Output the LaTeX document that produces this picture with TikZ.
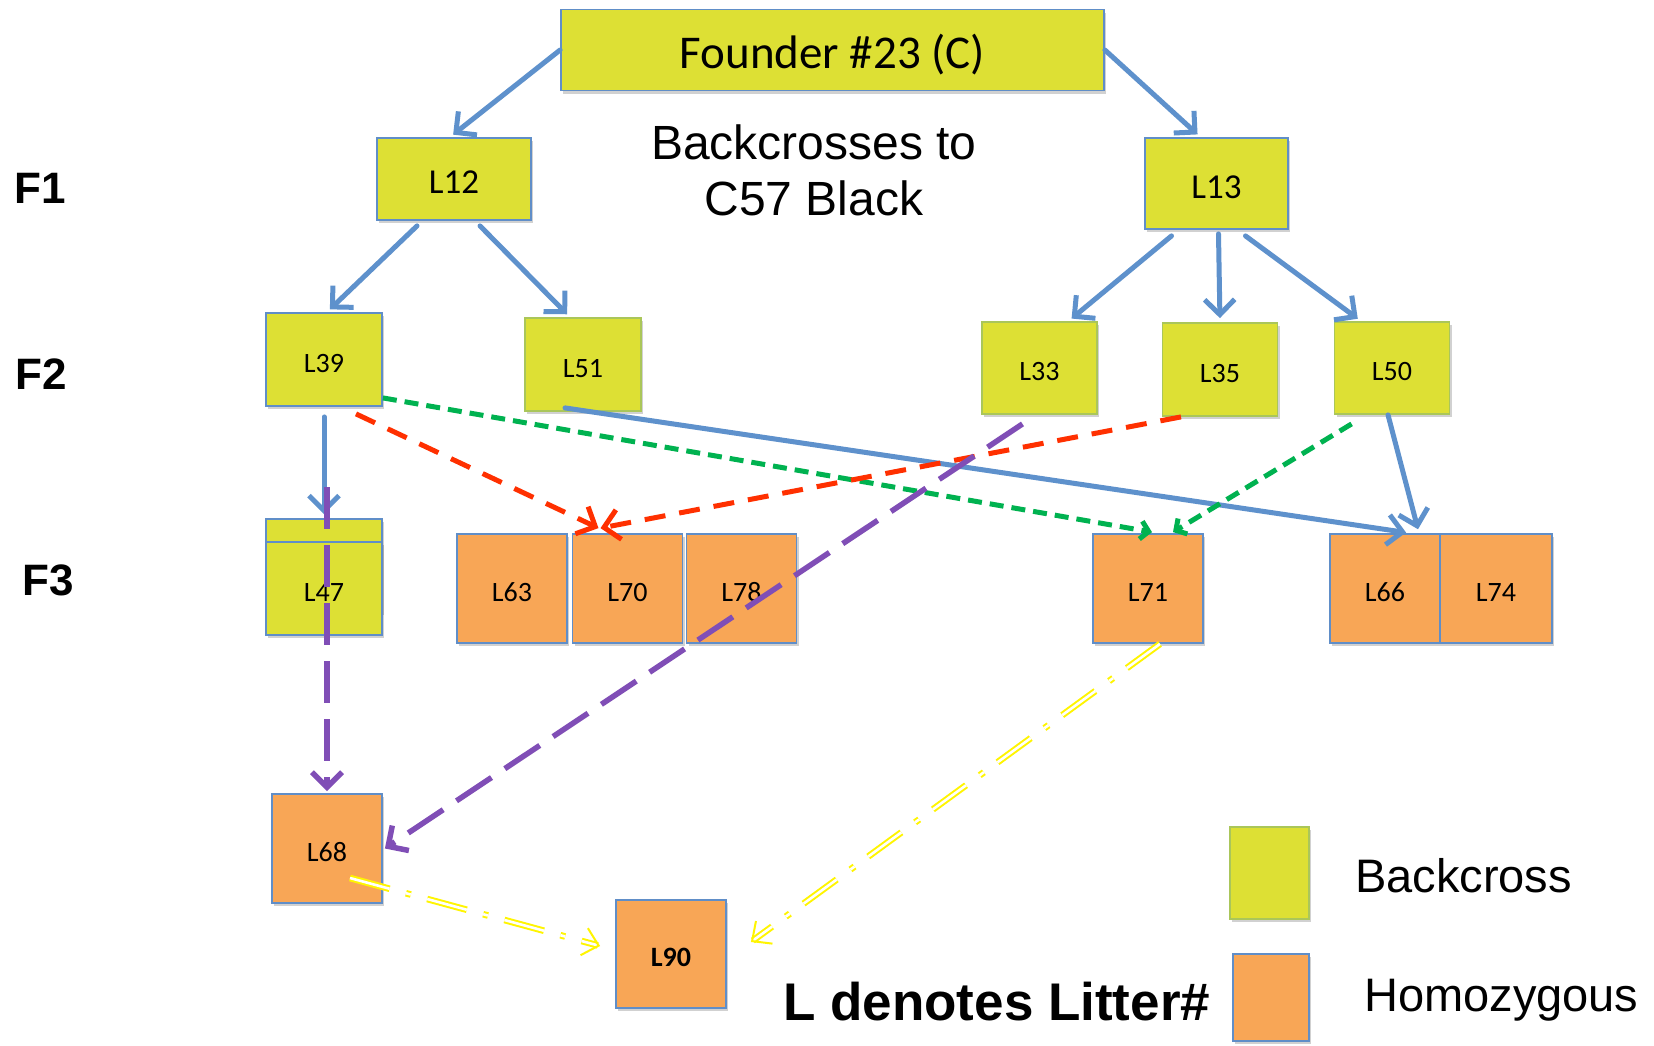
\documentclass[tikz,border=0pt]{standalone}
\usepackage{fontspec}
\setmainfont{Carlito}
\newfontfamily\arialf{Liberation Sans}
\usetikzlibrary{arrows.meta,shadows,calc}
\definecolor{bcgreen}{RGB}{221,224,52}
\definecolor{hzorange}{RGB}{248,166,86}
\definecolor{boxblue}{RGB}{96,142,200}
\definecolor{boxgreen}{RGB}{170,198,90}
\definecolor{arrblue}{RGB}{94,145,204}
\definecolor{dgreen}{RGB}{0,178,80}
\definecolor{dred}{RGB}{255,48,0}
\definecolor{dpurple}{RGB}{128,78,182}
\definecolor{dyellow}{RGB}{255,245,0}
\tikzset{
  bx/.style={draw=boxblue, line width=1.8pt, inner sep=0pt,
    font=\fontsize{28}{30}\selectfont, text height=25pt, text depth=0pt,
    drop shadow={shadow xshift=2pt, shadow yshift=-3pt, fill=black, opacity=0.18}},
  bc/.style={bx, fill=bcgreen},
  bcg/.style={bc, draw=boxgreen},
  hz/.style={bx, fill=hzorange},
  tipb/.style={-{Straight Barb[length=15pt,width=30pt]}},
  bl/.style={tipb, draw=arrblue, line width=5pt, line cap=round, shorten >=4pt},
  gd/.style={-{Straight Barb[length=8pt,width=18pt]}, draw=dgreen, line width=5pt, dash pattern=on 14pt off 8pt},
  rd/.style={tipb, draw=dred, line width=5pt, dash pattern=on 21pt off 14pt},
  pd/.style={tipb, draw=dpurple, line width=5.5pt, dash pattern=on 42pt off 16pt},
  yd/.style={-{Straight Barb[length=15pt,width=28pt]}, draw=dyellow, double=white,
    line width=2pt, double distance=2.6pt, dash pattern=on 41pt off 17pt on 5pt off 17pt},
  lbl/.style={font=\arialf\fontsize{44}{50}\selectfont\bfseries, inner sep=0pt},
  atxt/.style={font=\arialf\fontsize{47}{55}\selectfont, inner sep=0pt},
}
\begin{document}
\begin{tikzpicture}[x=1pt,y=-1pt]
\useasboundingbox (0,0) rectangle (1654,1045);
\fill[white] (0,0) rectangle (1654,1045);

% generation labels
\node[lbl] (F1) at (40,188) {F1};
\node[lbl] (F2) at (41,374) {F2};
\node[lbl] (F3) at (48,580) {F3};

% founder and F1
\node[bc, minimum width=543pt, minimum height=81pt, font=\fontsize{47}{50}\selectfont, text height=36pt] (F) at (832.5,50) {Founder \#23 (C)};
\node[bc, minimum width=154pt, minimum height=82pt, font=\fontsize{35}{38}\selectfont, text height=29pt] (L12) at (454,179) {L12};
\node[bc, minimum width=143pt, minimum height=91pt, font=\fontsize{35}{38}\selectfont, text height=29pt] (L13) at (1216.5,183.5) {L13};
\node[atxt, align=center, font=\arialf\fontsize{48}{56}\selectfont] (bt) at (814,170) {Backcrosses to\\C57 Black};

% F2
\node[bc, minimum width=116pt, minimum height=93pt] (L39) at (324,359.5) {L39};
\node[bcg, minimum width=116pt, minimum height=93pt] (L51) at (583,364.5) {L51};
\node[bcg, minimum width=115pt, minimum height=92pt] (L33) at (1039.5,368) {L33};
\node[bcg, minimum width=115pt, minimum height=93pt] (L35) at (1220,369.5) {L35};
\node[bcg, minimum width=115pt, minimum height=92pt] (L50) at (1392,368) {L50};

% F3
\node[bc, minimum width=116pt, minimum height=93pt] (L47b) at (324,565.5) {};
\node[bc, minimum width=116pt, minimum height=93pt] (L47) at (324,588.5) {L47};
\node[hz, minimum width=110pt, minimum height=109pt] (L63) at (512,588.5) {L63};
\node[hz, minimum width=110pt, minimum height=109pt] (L70) at (627.5,588.5) {L70};
\node[hz, minimum width=110pt, minimum height=109pt] (L78) at (741.5,588.5) {L78};
\node[hz, minimum width=110pt, minimum height=109pt] (L71) at (1148,588.5) {L71};
\node[hz, minimum width=110pt, minimum height=109pt] (L66) at (1385,588.5) {L66};
\node[hz, minimum width=112pt, minimum height=109pt] (L74) at (1496,588.5) {L74};

% lower
\node[hz, minimum width=110pt, minimum height=109pt] (L68) at (327,848.5) {L68};
\node[hz, minimum width=110pt, minimum height=108pt, font=\fontsize{28}{30}\selectfont\bfseries] (L90) at (671,954) {L90};

% legend
\node[bcg, minimum width=79pt, minimum height=92pt, text height=0pt] (lgB) at (1269.5,873) {};
\node[hz, minimum width=76pt, minimum height=87pt, text height=0pt] (lgH) at (1271,997.5) {};
\node[atxt, anchor=west] (tB) at (1355,876) {Backcross};
\node[atxt, anchor=west] (tH) at (1364,1000) {Homozygous};
\node[font=\arialf\fontsize{53}{58}\selectfont\bfseries, inner sep=0pt, anchor=west] (ld) at (783,1002) {L denotes Litter\#};

% blue connectors
\draw[bl] (F.west) -- ([xshift=-4pt]L12.north);
\draw[bl] (F.east) -- ([xshift=-16pt]L13.north);
\draw[bl] ([xshift=-37pt,yshift=-5pt]L12.south) -- ([xshift=3pt]L39.north);
\draw[bl] ([xshift=26pt,yshift=-5pt]L12.south) -- ([xshift=-13pt]L51.north);
\draw[bl] ([xshift=-45pt,yshift=-6pt]L13.south) -- ([xshift=29pt]L33.north);
\draw[bl] ([xshift=2pt,yshift=-4pt]L13.south) -- (L35.north);
\draw[bl] ([xshift=29pt,yshift=-6pt]L13.south) -- ([xshift=-31pt]L50.north);
\draw[bl] ([yshift=-10pt]L39.south) -- (L47b.north);
\draw[bl] ([xshift=-18pt,yshift=4pt]L51.south) -- ([xshift=25pt]L66.north);
\draw[bl] ([xshift=-4pt]L50.south) -- ([xshift=34pt]L66.north);

% green dashed
\draw[gd] ([yshift=9pt]L39.south east) -- ([xshift=4pt,yshift=1pt]L71.north);
\draw[gd] ([xshift=18pt,yshift=-9pt]L50.south west) -- ([xshift=25pt,yshift=1pt]L71.north);

% red dashed
\draw[rd] ([xshift=32pt,yshift=-7pt]L39.south) -- ([xshift=-29pt,yshift=5pt]L70.north);
\draw[rd] ([xshift=-39pt]L35.south) -- ([xshift=-27pt,yshift=5pt]L70.north);

% purple dashed
\draw[pd] ([xshift=-17pt,yshift=-9pt]L33.south) -- ([xshift=2pt]L68.east);
\draw[pd] ([xshift=3pt,yshift=31pt]L47b.north) -- ([yshift=2pt]L68.north);

% yellow double dash-dot
\draw[yd] ([xshift=12pt]L71.south) -- ([xshift=24pt,yshift=12pt]L90.east);
\draw[yd] ([xshift=23pt,yshift=-29.5pt]L68.center) -- ([xshift=-15pt,yshift=8pt]L90.west);
\end{tikzpicture}
\end{document}
